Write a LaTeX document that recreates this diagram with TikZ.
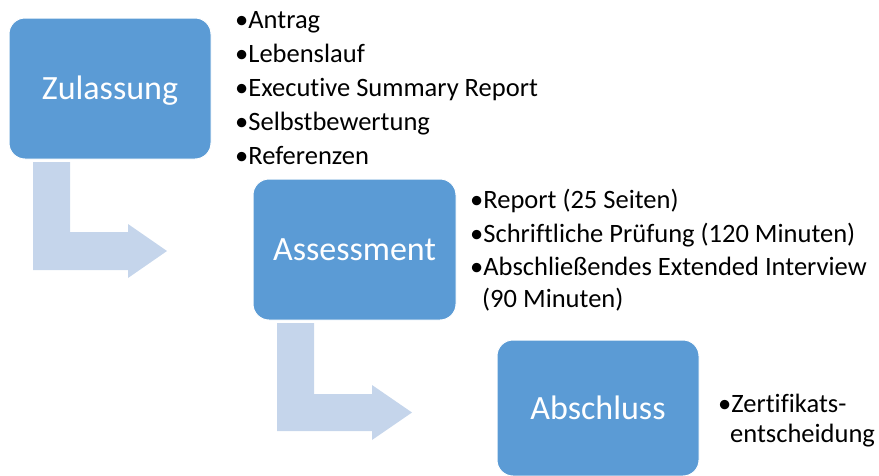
\documentclass[tikz,border=0pt]{standalone}
\usepackage{fontspec}
\setmainfont{Carlito}[Ligatures=NoCommon]
\begin{document}
\begin{tikzpicture}[x=1pt,y=-1pt,
  stage/.style={fill=stageblue,draw=white,line width=1pt,rounded corners=16pt},
  stagelabel/.style={text=white,font=\fontsize{34}{40}\selectfont,inner sep=0pt,anchor=base},
  bendarrow/.style={fill=arrowblue,draw=none},
  item/.style={font=\fontsize{26.5}{32}\selectfont,inner sep=0pt,anchor=base west,text=black}]
\definecolor{stageblue}{HTML}{5B9BD5}
\definecolor{arrowblue}{HTML}{C5D5EB}
\useasboundingbox (0,0) rectangle (879,475);

% stage boxes
\draw[stage] (9,18) rectangle (211,159);
\draw[stage] (253,179) rectangle (456,320);
\draw[stage] (497,340) rectangle (699,476);

\node[stagelabel] (zul) at (110,99.5) {Zulassung};
\node[stagelabel] (ass) at (354.5,260.5) {Assessment};
\node[stagelabel] (abs) at (598,419.5) {Abschluss};

% bent arrows between the stages
\fill[bendarrow] (33,162) -- (70,162) -- (70,232) -- (128,232) -- (128,224)
  -- (167,251) -- (128,278) -- (128,270) -- (33,270) -- cycle;
\fill[bendarrow] (277,323) -- (314,323) -- (314,394) -- (372,394) -- (372,385)
  -- (412,412.5) -- (372,440) -- (372,431) -- (277,431) -- cycle;

% requirements of the admission stage
\node[item] (z1) at (235,28.5) {•Antrag};
\node[item] (z2) at (235,62.5) {•Lebenslauf};
\node[item] (z3) at (235,96.5) {•Executive Summary Report};
\node[item] (z4) at (235,130) {•Selbstbewertung};
\node[item] (z5) at (235,164) {•Referenzen};

% parts of the assessment
\node[item] (a1) at (470,208) {•Report (25 Seiten)};
\node[item] (a2) at (470,242) {•Schriftliche Prüfung (120 Minuten)};
\node[item] (a3) at (470,275) {•Abschließendes Extended Interview};
\node[item] (a4) at (482,307) {(90 Minuten)};

% final step
\node[item] (e1) at (718,412) {•Zertifikats-};
\node[item] (e2) at (730,442) {entscheidung};
\end{tikzpicture}
\end{document}
